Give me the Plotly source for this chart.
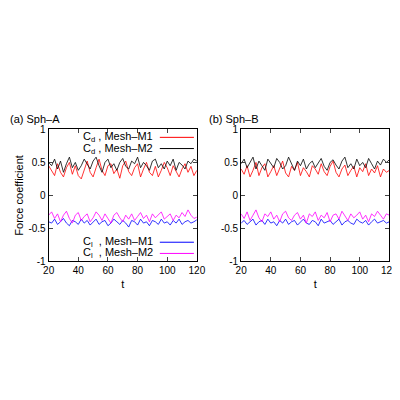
import plotly.graph_objects as go
import numpy as np

t = np.arange(20, 121, 2)
cd_m1_a = [0.45,0.38,0.30,0.48,0.35,0.28,0.42,0.50,0.32,0.45,0.30,0.25,0.40,0.52,0.35,0.28,0.42,0.55,0.38,0.30,0.45,0.48,0.33,0.40,0.26,0.45,0.52,0.36,0.30,0.42,0.48,0.28,0.40,0.50,0.35,0.30,0.44,0.28,0.38,0.50,0.42,0.30,0.45,0.36,0.28,0.40,0.48,0.35,0.44,0.30,0.38]
cd_m2_a = [0.50,0.45,0.55,0.40,0.52,0.35,0.48,0.58,0.42,0.50,0.38,0.45,0.55,0.48,0.40,0.52,0.58,0.45,0.35,0.50,0.55,0.42,0.48,0.38,0.50,0.56,0.44,0.40,0.52,0.48,0.58,0.42,0.50,0.45,0.38,0.52,0.55,0.42,0.48,0.40,0.52,0.45,0.55,0.38,0.50,0.46,0.40,0.52,0.48,0.55,0.52]
cl_m1_a = [-0.40,-0.42,-0.36,-0.44,-0.40,-0.35,-0.42,-0.46,-0.38,-0.40,-0.44,-0.36,-0.42,-0.38,-0.45,-0.40,-0.36,-0.44,-0.40,-0.38,-0.46,-0.42,-0.36,-0.40,-0.44,-0.38,-0.42,-0.48,-0.38,-0.40,-0.45,-0.36,-0.42,-0.40,-0.46,-0.38,-0.40,-0.44,-0.36,-0.42,-0.40,-0.45,-0.38,-0.42,-0.36,-0.44,-0.40,-0.38,-0.42,-0.40,-0.37]
cl_m2_a = [-0.30,-0.25,-0.35,-0.28,-0.40,-0.30,-0.24,-0.35,-0.42,-0.30,-0.26,-0.38,-0.32,-0.28,-0.40,-0.34,-0.25,-0.30,-0.38,-0.28,-0.35,-0.42,-0.30,-0.26,-0.34,-0.40,-0.30,-0.36,-0.28,-0.38,-0.32,-0.26,-0.35,-0.30,-0.40,-0.28,-0.34,-0.30,-0.25,-0.36,-0.32,-0.28,-0.38,-0.30,-0.34,-0.26,-0.32,-0.22,-0.30,-0.35,-0.33]
cd_m1_b = [0.40,0.32,0.45,0.28,0.38,0.50,0.30,0.42,0.48,0.28,0.36,0.45,0.30,0.40,0.52,0.34,0.28,0.44,0.38,0.50,0.30,0.42,0.36,0.28,0.45,0.40,0.32,0.48,0.36,0.30,0.44,0.52,0.35,0.28,0.40,0.46,0.30,0.38,0.44,0.28,0.42,0.36,0.48,0.30,0.40,0.34,0.45,0.28,0.40,0.35,0.38]
cd_m2_b = [0.48,0.55,0.42,0.50,0.58,0.40,0.52,0.45,0.38,0.55,0.48,0.42,0.56,0.50,0.40,0.45,0.58,0.48,0.38,0.52,0.45,0.55,0.40,0.48,0.52,0.42,0.50,0.56,0.44,0.38,0.50,0.54,0.46,0.40,0.52,0.58,0.42,0.48,0.40,0.55,0.45,0.50,0.42,0.56,0.48,0.40,0.52,0.46,0.55,0.50,0.54]
cl_m1_b = [-0.42,-0.38,-0.44,-0.40,-0.36,-0.45,-0.40,-0.38,-0.44,-0.36,-0.42,-0.40,-0.46,-0.38,-0.42,-0.36,-0.44,-0.40,-0.38,-0.45,-0.40,-0.36,-0.42,-0.44,-0.38,-0.40,-0.46,-0.36,-0.42,-0.40,-0.38,-0.44,-0.40,-0.36,-0.45,-0.40,-0.38,-0.42,-0.44,-0.36,-0.40,-0.42,-0.38,-0.45,-0.40,-0.36,-0.42,-0.40,-0.38,-0.42,-0.40]
cl_m2_b = [-0.28,-0.35,-0.25,-0.38,-0.30,-0.22,-0.34,-0.40,-0.28,-0.32,-0.25,-0.36,-0.30,-0.40,-0.28,-0.24,-0.34,-0.38,-0.30,-0.26,-0.36,-0.30,-0.42,-0.28,-0.32,-0.25,-0.38,-0.30,-0.34,-0.26,-0.40,-0.30,-0.28,-0.36,-0.24,-0.32,-0.38,-0.28,-0.34,-0.30,-0.25,-0.36,-0.30,-0.40,-0.28,-0.32,-0.24,-0.30,-0.36,-0.28,-0.30]

colors = {"cd1": "#ff0000", "cd2": "#000000", "cl1": "#0000ff", "cl2": "#ff00ff"}
fig = go.Figure()
panels = [("x", "y", cd_m1_a, cd_m2_a, cl_m1_a, cl_m2_a), ("x2", "y2", cd_m1_b, cd_m2_b, cl_m1_b, cl_m2_b)]
for xa, ya, a, b, c, d in panels:
    for vals, key in [(a, "cd1"), (b, "cd2"), (c, "cl1"), (d, "cl2")]:
        fig.add_trace(go.Scatter(x=t, y=vals, mode="lines", xaxis=xa, yaxis=ya,
                                 line=dict(color=colors[key], width=0.8), showlegend=False))

ax = dict(range=[20, 120], dtick=20, ticks="inside", ticklen=4, mirror="ticks", showline=True,
          linecolor="black", linewidth=1, showgrid=False, zeroline=False,
          title=dict(text="t", standoff=4, font=dict(size=11)), tickfont=dict(size=10))
ay = dict(range=[-1, 1], dtick=0.5, ticks="inside", ticklen=4, mirror="ticks", showline=True,
          linecolor="black", linewidth=1, showgrid=False, zeroline=False, tickfont=dict(size=10),
          tickvals=[-1, -0.5, 0, 0.5, 1], ticktext=["-1", "-0.5", "0", "0.5", "1"])
fig.update_layout(
    width=400, height=400, margin=dict(l=0, r=0, t=0, b=0),
    plot_bgcolor="white", paper_bgcolor="white",
    font=dict(family="Liberation Sans, Arial", size=10, color="black"),
    xaxis=dict(ax, domain=[36/400, 190/400], anchor="y"),
    yaxis=dict(ay, domain=[145/400, 281/400], anchor="x", title=dict(text="Force coefficient", standoff=2, font=dict(size=11))),
    xaxis2=dict(ax, domain=[236/400, 390/400], anchor="y2"),
    yaxis2=dict(ay, domain=[145/400, 281/400], anchor="x2"),
)
fig.add_annotation(text="(a) Sph–A", x=-6/400, y=1-100/400, xref="paper", yref="paper", xanchor="left", showarrow=False, font=dict(size=11))
fig.add_annotation(text="(b) Sph–B", x=201/400, y=1-100/400, xref="paper", yref="paper", xanchor="left", showarrow=False, font=dict(size=11))

legend = [("C<sub>d</sub> , Mesh–M1", "cd1", 0.88), ("C<sub>d</sub> , Mesh–M2", "cd2", 0.71),
          ("C<sub>l</sub>  , Mesh–M1", "cl1", -0.71), ("C<sub>l</sub>  , Mesh–M2", "cl2", -0.88)]
for txt, key, yv in legend:
    fig.add_annotation(text=txt, x=92, y=yv, xref="x", yref="y", xanchor="right", showarrow=False, font=dict(size=11))
    fig.add_shape(type="line", x0=95, x1=118, y0=yv, y1=yv, xref="x", yref="y",
                  line=dict(color=colors[key], width=1))
fig.write_html("out.html")
